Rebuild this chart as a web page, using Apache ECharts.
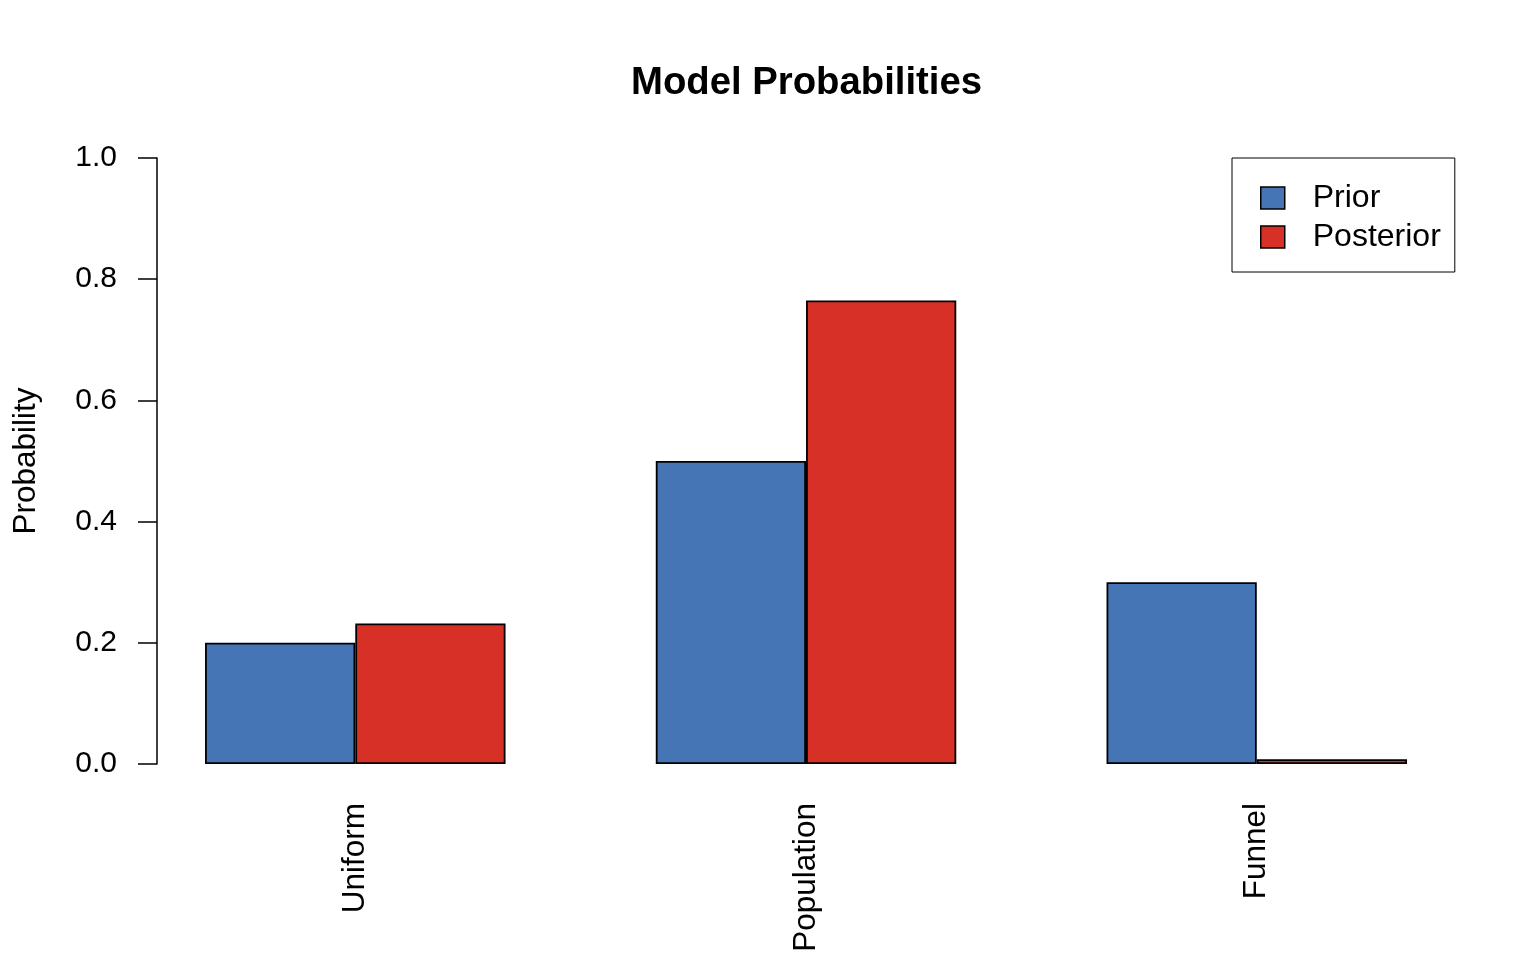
<!DOCTYPE html>
<html>
<head>
<meta charset="utf-8">
<script src="https://cdn.jsdelivr.net/npm/echarts@6/dist/echarts.min.js"></script>
<style>
html,body{margin:0;padding:0;background:#fff;}
#chart{width:1536px;height:960px;}
</style>
</head>
<body>
<div id="chart"></div>
<script>
var categories = ['Uniform', 'Population', 'Funnel'];
var priorValues = [0.2, 0.5, 0.3];
var posteriorValues = [0.232, 0.765, 0.008];
var yTicks = [0, 0.2, 0.4, 0.6, 0.8, 1.0];

var FONT = '"Liberation Sans", Arial, Helvetica, sans-serif';
var chart = echarts.init(document.getElementById('chart'));
chart.setOption({
  animation: false,
  backgroundColor: '#fff',
  title: {
    text: 'Model Probabilities',
    left: 631,
    top: 64,
    padding: 0,
    textStyle: { fontFamily: FONT, fontSize: 38.3, fontWeight: 'bold', color: '#000' }
  },
  legend: {
    orient: 'vertical',
    left: 1232,
    top: 158,
    padding: [24, 14, 19, 28],
    itemGap: 7,
    itemWidth: 24,
    itemHeight: 22,
    icon: 'rect',
    borderColor: '#000',
    borderWidth: 1,
    itemStyle: { borderColor: '#000', borderWidth: 1.5 },
    textStyle: { fontFamily: FONT, fontSize: 32, color: '#000', padding: [0, 0, 0, 23] },
    data: ['Prior', 'Posterior']
  },
  grid: { left: 129.9, width: 1352.25, top: 158, height: 606, containLabel: false },
  xAxis: {
    type: 'category',
    data: categories,
    axisLine: { show: false },
    axisTick: { show: false },
    axisLabel: { rotate: 90, margin: 39, fontFamily: FONT, fontSize: 31.5, color: '#000' }
  },
  yAxis: {
    type: 'value',
    min: 0,
    max: 1,
    interval: 0.2,
    offset: -27.1,
    name: 'Probability',
    nameLocation: 'middle',
    nameRotate: 90,
    nameGap: 115,
    nameTextStyle: { fontFamily: FONT, fontSize: 31.5, color: '#000' },
    axisLine: { show: true, lineStyle: { color: '#000', width: 1.5 } },
    axisTick: { show: true, inside: false, length: 19, lineStyle: { color: '#000', width: 1.5 } },
    splitLine: { show: false },
    axisLabel: {
      margin: 40, fontFamily: FONT, fontSize: 30, color: '#000',
      formatter: function (v) { return v.toFixed(1); }
    }
  },
  series: [
    {
      name: 'Prior', type: 'bar', data: priorValues,
      barGap: '0%', barCategoryGap: '33.333%',
      itemStyle: { color: '#4575b4', borderColor: '#000', borderWidth: 1.8 }
    },
    {
      name: 'Posterior', type: 'bar', data: posteriorValues,
      barGap: '0%', barCategoryGap: '33.333%',
      itemStyle: { color: '#d73027', borderColor: '#000', borderWidth: 1.8 }
    }
  ]
});
</script>
</body>
</html>
